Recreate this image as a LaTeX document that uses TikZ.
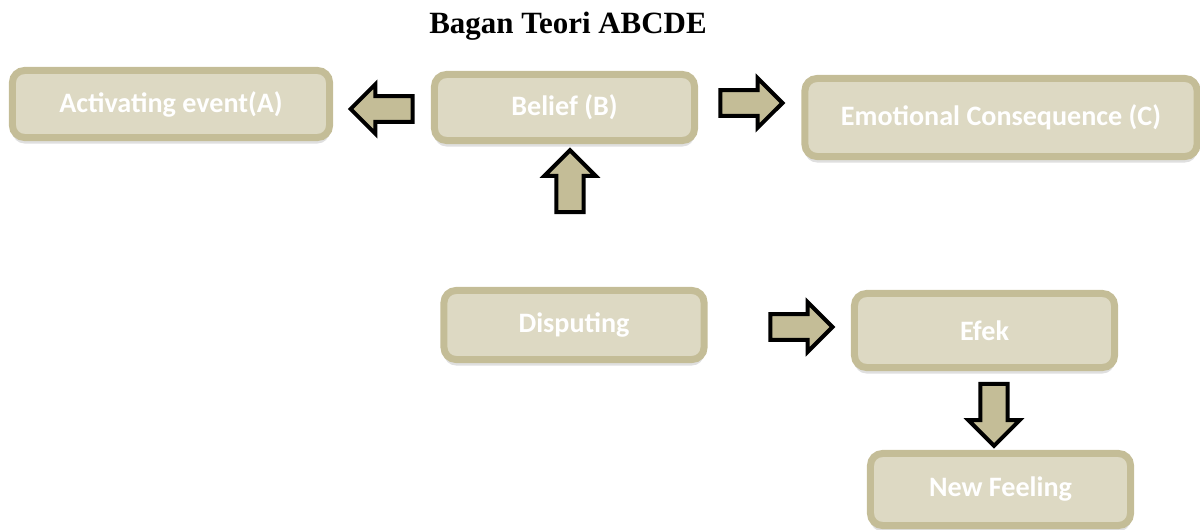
\documentclass[tikz,border=0pt]{standalone}
\usepackage{fontspec}
\setmainfont{Carlito}
\newfontfamily\titlefont{Liberation Serif}
\usetikzlibrary{shapes.arrows,shadows}

\definecolor{tanedge}{HTML}{C4BD97}
\definecolor{tanfill}{HTML}{DDD9C3}

\tikzset{
	stage/.style={draw=tanedge, fill=tanfill, line width=0.175cm, rounded corners=0.3cm,
		text=white, font=\bfseries\fontsize{20}{24}\selectfont, inner sep=0pt,
		drop shadow={opacity=0.25, shadow xshift=0cm, shadow yshift=-0.15cm}},
	blockarrow/.style={single arrow, draw=black, fill=tanedge, line width=0.1cm,
		inner xsep=0pt, inner ysep=0.27cm, minimum width=0pt, minimum height=1.55cm,
		single arrow head extend=0.3cm, single arrow head indent=0pt},
	vblockarrow/.style={blockarrow, inner xsep=0.29cm, inner ysep=0pt}
}

\begin{document}
\begin{tikzpicture}[x=0.025cm, y=-0.025cm]
	\useasboundingbox (0,0) rectangle (1200,530);
	
	\node[font=\titlefont\bfseries\fontsize{22}{26}\selectfont] (title) at (568,26) {Bagan Teori ABCDE};
	
	% boxes
	\node[stage, minimum width=7.925cm, minimum height=1.675cm] (act) at (171,104) {Activating event(A)};
	\node[stage, minimum width=6.5cm, minimum height=1.65cm] (bel) at (564.5,107.5) {Belief (B)};
	\node[stage, minimum width=9.8cm, minimum height=1.95cm] (emo) at (1001,117.5) {Emotional Consequence (C)};
	\node[stage, minimum width=6.5cm, minimum height=1.725cm] (disp) at (574,325) {Disputing};
	\node[stage, minimum width=6.5cm, minimum height=1.85cm] (efek) at (984.5,330.5) {Efek};
	\node[stage, minimum width=6.5cm, minimum height=1.8cm] (feel) at (1000.5,489.5) {New Feeling};
	
	% arrows
	\node[blockarrow, shape border rotate=180] (toA) at (388,109) {};
	\node[blockarrow] (toC) at (745,103) {};
	\node[vblockarrow, shape border rotate=90] (toB) at (570,188) {};
	\node[blockarrow] (toE) at (795,327) {};
	\node[vblockarrow, shape border rotate=270] (toF) at (994,408) {};
\end{tikzpicture}
\end{document}
